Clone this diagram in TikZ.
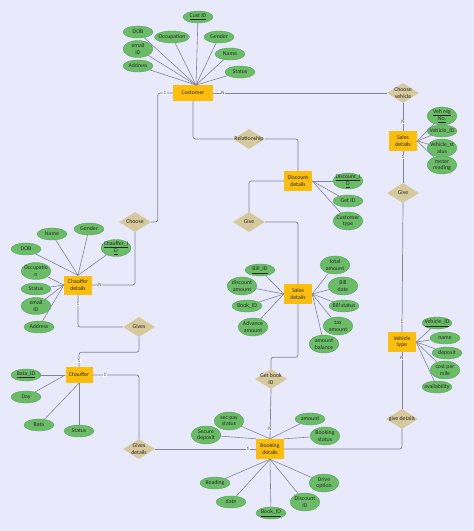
\documentclass[tikz,border=0pt]{standalone}
\usepackage{fontspec}
\setmainfont{Carlito}
\usetikzlibrary{shapes.geometric}
\definecolor{bgc}{RGB}{232,234,252}
\definecolor{entc}{RGB}{252,190,8}
\definecolor{relc}{RGB}{214,201,155}
\definecolor{attc}{RGB}{106,189,102}
\definecolor{attd}{RGB}{80,160,80}
\definecolor{linec}{RGB}{128,133,158}
\definecolor{txtc}{RGB}{40,40,40}
\begin{document}
\begin{tikzpicture}[x=1pt,y=-1pt,
  every node/.style={font=\fontsize{5.8}{6.4}\selectfont, text=txtc},
  lbl/.style={align=center, inner sep=0pt},
  ent/.style={rectangle, fill=entc, minimum width=28pt, minimum height=20pt, inner sep=0pt, align=center},
  rel/.style={diamond, fill=relc, minimum width=32pt, minimum height=20pt, inner sep=0pt},
  att/.style={ellipse, fill=attc, draw=attd, line width=0.3pt, minimum width=30pt, minimum height=12pt, inner sep=0pt},
  att2/.style={att, minimum height=18pt},
  conn/.style={draw=linec, line width=0.7pt, rounded corners=2.5pt},
  aline/.style={draw=linec, line width=0.6pt},
  card/.style={fill=white, inner sep=0.6pt, font=\fontsize{5}{5}\selectfont}
]
\fill[bgc] (0,0) rectangle (474,531);
\useasboundingbox (0,0) rectangle (474,531);

% ---------- entities ----------
\node[ent, minimum width=40pt, minimum height=16pt] (cust) at (193,93) {Customer};
\node[ent] (salesT) at (403,141) {Sales\\details};
\node[ent] (disc) at (298,181) {Discount\\details};
\node[ent, minimum height=19pt] (chd) at (78,285) {Chauffer\\details};
\node[ent] (salesM) at (298,294) {Sales\\details};
\node[ent] (vtype) at (402,342) {Vehicle\\type};
\node[ent, minimum width=27pt, minimum height=16pt] (chf) at (79,375) {Chauffer};
\node[ent] (book) at (270,449) {Booking\\details};

% ---------- relationships ----------
\node[rel, label={[lbl]center:Choose\\vehicle}] (chv) at (403,93) {};
\node[rel, label={[lbl]center:Relationship}] (relsh) at (249,139) {};
\node[rel, label={[lbl]center:Give}] (giveR) at (403,193) {};
\node[rel, label={[lbl]center:Give}] (giveM) at (249,222) {};
\node[rel, label={[lbl]center:Choose}] (chs) at (135,222) {};
\node[rel, label={[lbl]center:Gives}] (gives) at (139,327) {};
\node[rel, label={[lbl]center:Get book\\ID}] (getb) at (271,379) {};
\node[rel, label={[lbl]center:give details}] (gdet) at (402,419) {};
\node[rel, label={[lbl]center:Gives\\details}] (gdetL) at (139,449) {};

% ---------- relationship connectors ----------
\draw[conn] (cust.west) -- ++(-15,0) |- (chs.east);
\draw[conn] (cust.east) -- (chv.west);
\draw[conn] (cust.south) |- (relsh.west);
\draw[conn] (relsh.east) -| (disc.north);
\draw[conn] (chv.south) -- (salesT.north);
\draw[conn] (salesT.south) -- (giveR.north);
\draw[conn] (giveR.south) -- (vtype.north);
\draw[conn] (vtype.south) -- (gdet.north);
\draw[conn] (gdet.south) |- (book.east);
\draw[conn] (disc.west) -| (giveM.north);
\draw[conn] (giveM.east) -| (salesM.north);
\draw[conn] (salesM.south) -- ++(0,53) -| (getb.north);
\draw[conn] (getb.south) -- (book.north);
\draw[conn] (chd.east) -| (chs.south);
\draw[conn] (chd.south) |- (gives.west);
\draw[conn] (gives.south) -- ++(0,15) -| (chf.north);
\draw[conn] (chf.east) -| (gdetL.north);
\draw[conn] (gdetL.east) -- (book.west);

% ---------- cardinalities ----------
\node[card] (k1) at (165,93) {1};
\node[card] (k2) at (223,93) {N};
\node[card] (k3) at (403,122) {N};
\node[card] (k4) at (403,157) {1};
\node[card] (k5) at (402,322) {1};
\node[card] (k6) at (402,358) {N};
\node[card] (k7) at (100,285) {N};
\node[card] (k8) at (78,304) {1};
\node[card] (k9) at (79,361) {1};
\node[card] (k10) at (105,375) {1};
\node[card] (k11) at (248,449) {1};
\node[card] (k12) at (270,429) {N};

% ---------- Customer attributes ----------
\coordinate (ctop) at (196,85);
\node[att, label={[lbl]center:\underline{Cust ID}}] (a1) at (198,17) {};
\node[att, label={[lbl]center:DOB}] (a2) at (138,32) {};
\node[att, minimum width=35pt, label={[lbl]center:Occupation}] (a3) at (172,37) {};
\node[att, label={[lbl]center:Gender}] (a4) at (219,37) {};
\node[att2, minimum height=17pt, label={[lbl]center:email\\ID}] (a5) at (138,49) {};
\node[att, label={[lbl]center:Name}] (a6) at (230,54) {};
\node[att, label={[lbl]center:Address}] (a7) at (138,66) {};
\node[att, label={[lbl]center:Status}] (a8) at (240,72) {};
\foreach \n in {a1,a2,a3,a4,a5,a6,a7,a8} \draw[aline] (ctop) -- (\n);

% ---------- Sales details (top) attributes ----------
\node[att2, label={[lbl]center:\underline{Veh reg}\\\underline{No.}}] (b1) at (442,116) {};
\node[att, label={[lbl]center:Vehicle\_ID}] (b2) at (442,131) {};
\node[att2, label={[lbl]center:Vehicle\_st\\atus}] (b3) at (442,148) {};
\node[att2, label={[lbl]center:meter\\reading}] (b4) at (442,165) {};
\foreach \n in {b1,b2,b3,b4} \draw[aline] (salesT.east) -- (\n);

% ---------- Discount attributes ----------
\node[att2, minimum height=16pt, label={[lbl]center:\underline{Discount\_I}\\\underline{D}}] (c1) at (348,181) {};
\node[att, label={[lbl]center:Get ID}] (c2) at (348,201) {};
\node[att2, label={[lbl]center:Customer\\type}] (c3) at (348,221) {};
\foreach \n in {c1,c2,c3} \draw[aline] (disc.east) -- (\n);

% ---------- Chauffer details attributes ----------
\node[att, label={[lbl]center:Name}] (d1) at (52,234) {};
\node[att, label={[lbl]center:Gender}] (d2) at (89,229) {};
\node[att, label={[lbl]center:DOB}] (d3) at (26,249) {};
\node[att2, minimum height=17pt, label={[lbl]center:\underline{Chauffer\_I}\\\underline{D}}] (d4) at (116,248) {};
\node[att2, minimum height=17pt, label={[lbl]center:Occupatio\\n}] (d5) at (36,271) {};
\node[att, label={[lbl]center:Status}] (d6) at (36,289) {};
\node[att2, minimum height=17pt, label={[lbl]center:email\\ID}] (d7) at (36,306) {};
\node[att, label={[lbl]center:Address}] (d8) at (39,327) {};
\foreach \n in {d1,d2,d3,d4} \draw[aline] (chd.north) -- (\n);
\foreach \n in {d5,d6,d7,d8} \draw[aline] (chd.west) -- (\n);

% ---------- Sales details (middle) attributes ----------
\node[att, label={[lbl]center:\underline{Bill\_ID}}] (e1) at (260,270) {};
\node[att2, label={[lbl]center:discount\\amount}] (e2) at (242,286) {};
\node[att, label={[lbl]center:Book\_ID}] (e3) at (247,306) {};
\node[att2, label={[lbl]center:Advance\\amount}] (e4) at (253,327) {};
\node[att2, label={[lbl]center:total\\amount}] (e5) at (335,265) {};
\node[att2, label={[lbl]center:Bill\\date}] (e6) at (343,286) {};
\node[att, label={[lbl]center:Bill status}] (e7) at (344,306) {};
\node[att2, label={[lbl]center:tax\\amount}] (e8) at (338,326) {};
\node[att2, label={[lbl]center:amount\\balance}] (e9) at (324,344) {};
\foreach \n in {e1,e2,e3,e4} \draw[aline] (salesM.west) -- (\n);
\foreach \n in {e5,e6,e7,e8,e9} \draw[aline] (salesM.east) -- (\n);

% ---------- Vehicle type attributes ----------
\node[att, label={[lbl]center:\underline{Vehicle\_ID}}] (f1) at (437,323) {};
\node[att, label={[lbl]center:name}] (f2) at (445,338) {};
\node[att, label={[lbl]center:deposit}] (f3) at (447,353) {};
\node[att2, label={[lbl]center:cost per\\mile}] (f4) at (445,370) {};
\node[att, label={[lbl]center:availability}] (f5) at (437,387) {};
\foreach \n in {f1,f2,f3,f4,f5} \draw[aline] (vtype.east) -- (\n);

% ---------- Chauffer attributes ----------
\node[att, label={[lbl]center:\underline{Bata\_ID}}] (g1) at (26,375) {};
\node[att, label={[lbl]center:Day}] (g2) at (26,397) {};
\node[att, label={[lbl]center:Bata}] (g3) at (39,425) {};
\node[att, label={[lbl]center:Status}] (g4) at (79,431) {};
\draw[aline] (chf.west) -- (g1);
\draw[aline] (chf.west) -- (g2);
\draw[aline] (chf.south) -- (g3);
\draw[aline] (chf.south) -- (g4);

% ---------- Booking details attributes ----------
\node[att2, label={[lbl]center:sec pay\\status}] (h1) at (229,421) {};
\node[att2, label={[lbl]center:Secure\\deposit}] (h2) at (206,435) {};
\node[att, label={[lbl]center:amount}] (h3) at (310,419) {};
\node[att2, label={[lbl]center:Booking\\status}] (h4) at (325,436) {};
\node[att, label={[lbl]center:Reading}] (h5) at (215,483) {};
\node[att, label={[lbl]center:date}] (h6) at (231,502) {};
\node[att, label={[lbl]center:\underline{Book\_ID}}] (h7) at (271,513) {};
\node[att2, label={[lbl]center:Discount\\ID}] (h8) at (305,502) {};
\node[att2, label={[lbl]center:Drive\\option}] (h9) at (324,483) {};
\draw[aline] (book.north) -- (h1);
\draw[aline] (book.north west) -- (h2);
\draw[aline] (book.north) -- (h3);
\draw[aline] (book.north east) -- (h4);
\foreach \n in {h5,h6,h7,h8,h9} \draw[aline] (book.south) -- (\n);
\end{tikzpicture}
\end{document}
